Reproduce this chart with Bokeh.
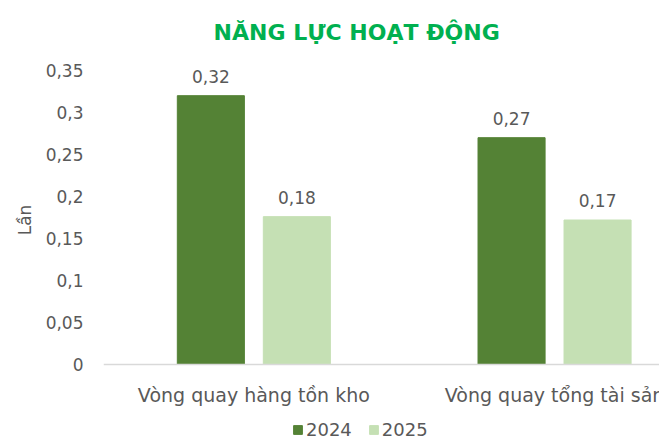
from bokeh.plotting import figure
from bokeh.models import (Range1d, FixedTicker, CustomJSTickFormatter, Label,
                          LabelSet, ColumnDataSource, Span)
from bokeh.core.properties import value
from bokeh.embed import file_html
from bokeh.resources import INLINE

categories = ["Vòng quay hàng tồn kho", "Vòng quay tổng tài sản"]
series_names = ["2024", "2025"]
values_2024 = [0.32, 0.27]
values_2025 = [0.176, 0.172]
y_ticks = [0, 0.05, 0.1, 0.15, 0.2, 0.25, 0.3, 0.35]

FONT = "DejaVu Sans"
GREY = "#595959"
C2024 = "#548235"
C2025 = "#C5E0B4"

p = figure(width=659, height=439, output_backend="svg", toolbar_location=None,
           x_range=Range1d(-0.5, 1.349), y_range=Range1d(-0.0893, 0.4333),
           min_border_left=103, min_border_right=0, min_border_top=0,
           min_border_bottom=0)
p.outline_line_color = None
p.xgrid.visible = False
p.ygrid.visible = False
p.xaxis.visible = False

xs = list(range(len(categories)))
dx = 0.143
w = 0.223

src24 = ColumnDataSource(dict(x=[i - dx for i in xs], top=values_2024,
                              lab=[f"{v:.2f}".replace(".", ",") for v in values_2024]))
src25 = ColumnDataSource(dict(x=[i + dx for i in xs], top=values_2025,
                              lab=[f"{v:.2f}".replace(".", ",") for v in values_2025]))

p.vbar(x="x", top="top", width=w, source=src24, fill_color=C2024,
       line_color=C2024, legend_label=series_names[0])
p.vbar(x="x", top="top", width=w, source=src25, fill_color=C2025,
       line_color=C2025, legend_label=series_names[1])

for s in (src24, src25):
    p.add_layout(LabelSet(x="x", y="top", text="lab", source=s, text_align="center",
                          text_baseline="alphabetic", y_offset=13,
                          text_font=value(FONT), text_font_size=value("17px"),
                          text_color=GREY))

# baseline (category axis line)
p.add_layout(Span(location=0, dimension="width", line_color="#D9D9D9", line_width=1.5))

# category labels
cat_src = ColumnDataSource(dict(x=xs, y=[0] * len(xs), t=categories))
p.text(x="x", y="y", text="t", source=cat_src, text_align="center",
       text_baseline="alphabetic", y_offset=31, text_font=value(FONT),
       text_font_size="19px", text_color=GREY)

# y axis
p.yaxis.ticker = FixedTicker(ticks=y_ticks)
p.yaxis.formatter = CustomJSTickFormatter(code="""
    return tick.toFixed(2).replace(/0+$/, '').replace(/\\.$/, '').replace('.', ',');
""")
p.yaxis.axis_line_color = None
p.yaxis.major_tick_line_color = None
p.yaxis.minor_tick_line_color = None
p.yaxis.major_label_text_font = FONT
p.yaxis.major_label_text_font_size = "17px"
p.yaxis.major_label_text_color = GREY
p.yaxis.major_label_standoff = 14
p.yaxis.axis_label = "Lần"
p.yaxis.axis_label_text_font = FONT
p.yaxis.axis_label_text_font_size = "17px"
p.yaxis.axis_label_text_font_style = "normal"
p.yaxis.axis_label_text_color = GREY
p.yaxis.axis_label_standoff = 8

# title
p.add_layout(Label(x=0.342, y=0.395, text="NĂNG LỰC HOẠT ĐỘNG", text_align="center",
                   text_baseline="alphabetic", text_font=FONT, text_font_size="22px",
                   text_font_style="bold", text_color="#00B050"))

# legend
lg = p.legend[0]
lg.orientation = "horizontal"
lg.location = (189, -1)
lg.padding = 0
lg.margin = 0
lg.spacing = 16
lg.border_line_color = None
lg.background_fill_alpha = 0
lg.glyph_width = 11
lg.glyph_height = 11
lg.label_height = 14
lg.label_standoff = 3
lg.label_text_font = FONT
lg.label_text_font_size = "18px"
lg.label_text_color = GREY

open("out.html", "w").write(file_html(p, INLINE))
